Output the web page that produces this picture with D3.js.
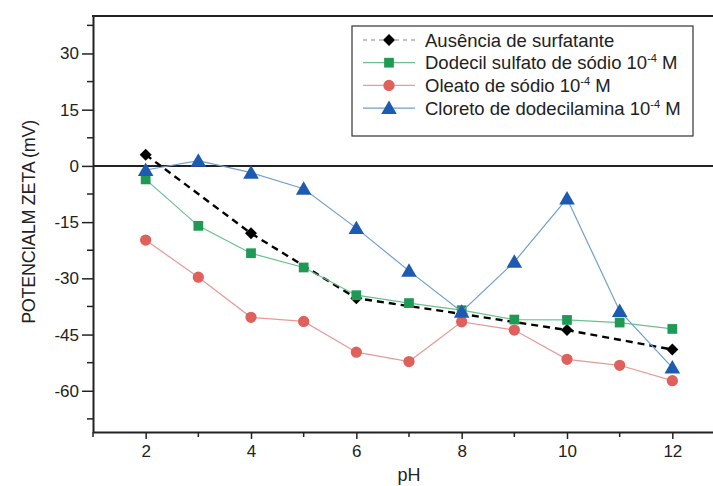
<!DOCTYPE html>
<html>
<head>
<meta charset="utf-8">
<script src="https://cdn.jsdelivr.net/npm/d3@7"></script>
<style>
  body { margin: 0; background: #fff; }
  svg { display: block; font-family: "Liberation Sans", Arial, sans-serif; }
</style>
</head>
<body>
<div id="viz"></div>
<script>
const width = 713;
const height = 486;
const margin = {top: 16, right: -12, bottom: 54, left: 93};

// Data
const phAll = [2, 3, 4, 5, 6, 7, 8, 9, 10, 11, 12];
const phEven = [2, 4, 6, 8, 10, 12];
const ausencia = [3, -18, -35.3, -39.5, -43.8, -49];
const dodecilSulfato = [-3.6, -16, -23.3, -27.1, -34.5, -36.6, -38.5, -41, -41.1, -41.8, -43.5];
const oleato = [-19.8, -29.7, -40.4, -41.5, -49.7, -52.2, -41.6, -43.8, -51.6, -53.2, -57.3];
const cloreto = [-1.1, 1.4, -1.8, -6.1, -16.6, -28, -38.9, -25.6, -8.7, -38.7, -53.8];

const yTicks = [-60, -45, -30, -15, 0, 15, 30];
const yMinorTicks = [-67.5, -52.5, -37.5, -22.5, -7.5, 7.5, 22.5, 37.5];
const xTicks = [2, 4, 6, 8, 10, 12];
const xMinorTicks = [1, 3, 5, 7, 9, 11, 13];

const series = [
  {name: 'Ausência de surfatante', sup: null, x: phEven, y: ausencia, line: '#000', fill: '#000', symbol: 'diamond', size: 72, dash: '7,5', lw: 2.4},
  {name: 'Dodecil sulfato de sódio 10', sup: '-4', x: phAll, y: dodecilSulfato, line: '#6cc08f', fill: '#1f9a55', symbol: 'square', size: 95, dash: null, lw: 1.2},
  {name: 'Oleato de sódio 10', sup: '-4', x: phAll, y: oleato, line: '#e89a96', fill: '#e0605c', symbol: 'circle', size: 100, dash: null, lw: 1.2},
  {name: 'Cloreto de dodecilamina 10', sup: '-4', x: phAll, y: cloreto, line: '#6f9fd0', fill: '#1d5bb0', symbol: 'triangle', size: 105, dash: null, lw: 1.2}
];

// diamond is a square turned 45 degrees
const symbolTypes = {diamond: d3.symbolSquare, square: d3.symbolSquare, circle: d3.symbolCircle, triangle: d3.symbolTriangle};
const symbolTransform = (s, x, y) => {
  if (s.symbol === 'diamond') return `translate(${x}, ${y}) rotate(45)`;
  if (s.symbol === 'triangle') return `translate(${x}, ${y + 1.5})`;
  return `translate(${x}, ${y})`;
};

const svg = d3.select('#viz')
  .append('svg')
    .attr('width', width)
    .attr('height', height);

const xScale = d3.scaleLinear()
  .domain([1, 13])
  .range([margin.left, width - margin.right]);
const yScale = d3.scaleLinear()
  .domain([-71, 40])
  .range([height - margin.bottom, margin.top]);

// frame: top border and zero line
svg.append('line')
  .attr('x1', margin.left - 1).attr('x2', width - margin.right)
  .attr('y1', margin.top).attr('y2', margin.top)
  .attr('stroke', '#222').attr('stroke-width', 2);
svg.append('line')
  .attr('x1', margin.left).attr('x2', width - margin.right)
  .attr('y1', yScale(0)).attr('y2', yScale(0))
  .attr('stroke', '#222').attr('stroke-width', 2);

// y axis
const yAxis = d3.axisLeft(yScale).tickValues(yTicks).tickFormat(d => String(d))
  .tickSize(11).tickPadding(3).tickSizeOuter(0);
const yAxisGroup = svg.append('g')
  .attr('transform', `translate(${margin.left}, 0)`)
  .style('font-size', '17px')
  .call(yAxis);
yAxisGroup.selectAll('text').attr('fill', '#222').style('font-family', '"Liberation Sans", Arial, sans-serif');
yAxisGroup.select('.domain').attr('stroke', '#222').attr('stroke-width', 2);
yAxisGroup.selectAll('.tick line').attr('stroke', '#222').attr('stroke-width', 1.5);
yAxisGroup.selectAll('.minor')
  .data(yMinorTicks)
  .join('line')
    .attr('class', 'minor')
    .attr('x1', -6).attr('x2', 0)
    .attr('y1', d => yScale(d)).attr('y2', d => yScale(d))
    .attr('stroke', '#222').attr('stroke-width', 1.5);

// x axis
const xAxis = d3.axisBottom(xScale).tickValues(xTicks).tickFormat(d => String(d))
  .tickSize(7).tickPadding(6).tickSizeOuter(0);
const xAxisGroup = svg.append('g')
  .attr('transform', `translate(0, ${height - margin.bottom})`)
  .style('font-size', '17px')
  .call(xAxis);
xAxisGroup.selectAll('text').attr('fill', '#222').style('font-family', '"Liberation Sans", Arial, sans-serif');
xAxisGroup.select('.domain').attr('stroke', '#222').attr('stroke-width', 2);
xAxisGroup.selectAll('.tick line').attr('stroke', '#222').attr('stroke-width', 1.5);
xAxisGroup.selectAll('.minor')
  .data(xMinorTicks)
  .join('line')
    .attr('class', 'minor')
    .attr('x1', d => xScale(d)).attr('x2', d => xScale(d))
    .attr('y1', 0).attr('y2', 5)
    .attr('stroke', '#222').attr('stroke-width', 1.5);

// axis titles
svg.append('text')
  .attr('x', (margin.left + xScale(13)) / 2)
  .attr('y', 481)
  .attr('text-anchor', 'middle')
  .attr('fill', '#222')
  .style('font-size', '18px')
  .text('pH');
svg.append('text')
  .attr('transform', `translate(35, 222) rotate(-90)`)
  .attr('text-anchor', 'middle')
  .attr('fill', '#222')
  .style('font-size', '18px')
  .style('letter-spacing', '-0.3px')
  .text('POTENCIALM ZETA (mV)');

// lines and markers
series.forEach(s => {
  const pts = s.x.map((p, i) => [p, s.y[i]]);
  const lineGen = d3.line()
    .x(d => xScale(d[0]))
    .y(d => yScale(d[1]));
  svg.append('path')
    .attr('d', lineGen(pts))
    .attr('fill', 'none')
    .attr('stroke', s.line)
    .attr('stroke-width', s.lw)
    .attr('stroke-dasharray', s.dash);
  svg.append('g')
    .selectAll('path')
    .data(pts)
    .join('path')
      .attr('transform', d => symbolTransform(s, xScale(d[0]), yScale(d[1])))
      .attr('d', d3.symbol().type(symbolTypes[s.symbol]).size(s.size))
      .attr('fill', s.fill);
});

// legend
const legend = svg.append('g');
legend.append('rect')
  .attr('x', 352).attr('y', 26)
  .attr('width', 341).attr('height', 110)
  .attr('fill', '#fff')
  .attr('stroke', '#333')
  .attr('stroke-width', 1.2);
series.forEach((s, i) => {
  const cy = 40 + i * 22.7;
  legend.append('line')
    .attr('x1', 363).attr('x2', 415)
    .attr('y1', cy).attr('y2', cy)
    .attr('stroke', s.dash ? '#888' : s.line)
    .attr('stroke-width', s.dash ? 1 : 1.2)
    .attr('stroke-dasharray', s.dash ? '4,4' : null);
  legend.append('path')
    .attr('transform', symbolTransform(s, 389, cy))
    .attr('d', d3.symbol().type(symbolTypes[s.symbol]).size(s.size))
    .attr('fill', s.fill);
  const t = legend.append('text')
    .attr('x', 425).attr('y', cy + 6.5)
    .attr('fill', '#222')
    .style('font-size', '18.5px')
    .text(s.name);
  if (s.sup) {
    t.append('tspan').attr('dy', -7).style('font-size', '11px').text(s.sup);
    t.append('tspan').attr('dy', 7).text(' M');
  }
});
</script>
</body>
</html>
